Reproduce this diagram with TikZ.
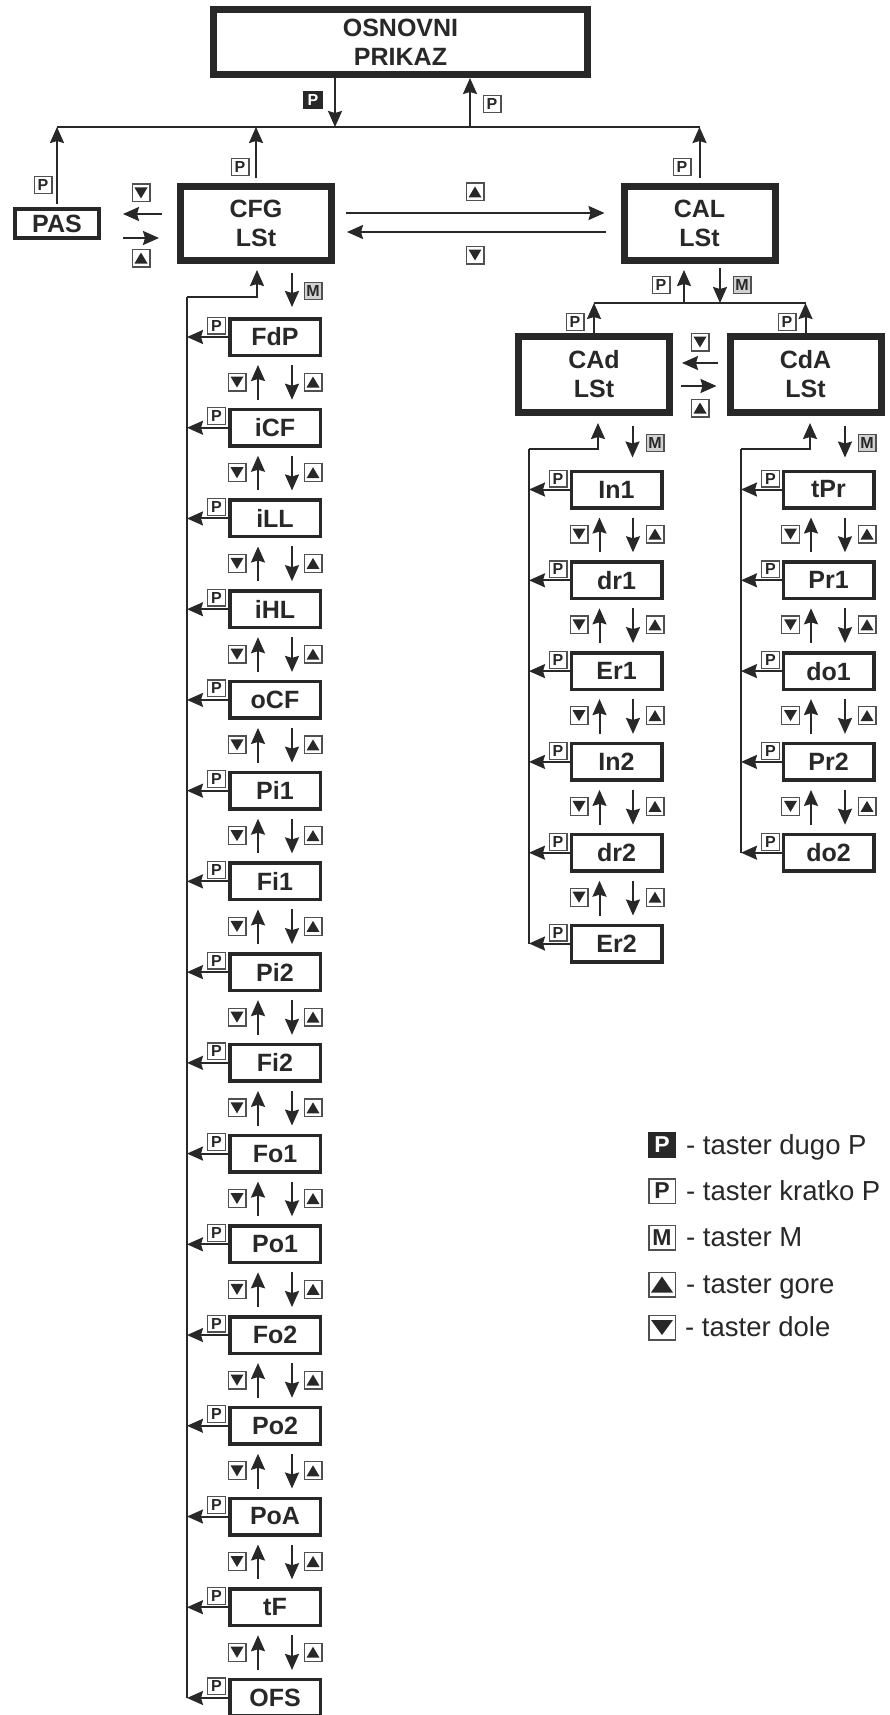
\documentclass[tikz,border=0pt]{standalone}
\usepackage{fontspec}
\setmainfont{Liberation Sans}
\usetikzlibrary{arrows.meta}
\definecolor{ink}{RGB}{40,40,40}
\definecolor{lbl}{RGB}{80,80,80}
\begin{document}
\begin{tikzpicture}[x=1pt,y=-1pt,line join=miter,
  bigbox/.style={draw=ink,line width=7pt,fill=white,text=ink,align=center,inner sep=0pt,
    font=\fontsize{25}{29}\selectfont\bfseries},
  itembox/.style={draw=ink,line width=3.5pt,fill=white,text=ink,inner sep=0pt,
    minimum width=90.5pt,minimum height=36.5pt,font=\fontsize{25}{29}\selectfont\bfseries},
  wire/.style={draw=ink,line width=2pt},
  arr/.style={wire,-{Stealth[length=16pt,width=14pt,inset=2pt]}},
  kbase/.style={draw=lbl,line width=1.2pt,fill=white,text=ink,inner sep=0pt,
    minimum width=17.8pt,minimum height=16.8pt,font=\fontsize{16}{16}\selectfont\bfseries},
  kPf/.style={fill=ink,text=white,inner sep=0pt,minimum width=20pt,minimum height=18pt,
    font=\fontsize{16}{16}\selectfont\bfseries},
  kM/.style={kbase,fill=black!18},
  kUp/.style={kbase,minimum height=17.8pt,path picture={\fill[ink] (path picture bounding box.center)
    ++(0pt,5.5pt) -- ++(6.5pt,-11pt) -- ++(-13pt,0pt) -- cycle;}},
  kDn/.style={kbase,minimum height=17.8pt,path picture={\fill[ink] (path picture bounding box.center)
    ++(0pt,-5.5pt) -- ++(6.5pt,11pt) -- ++(-13pt,0pt) -- cycle;}},
  lbase/.style={draw=lbl,line width=1.5pt,fill=white,text=ink,inner sep=0pt,
    minimum width=26.5pt,minimum height=24.5pt,font=\fontsize{23}{23}\selectfont\bfseries},
  lPf/.style={fill=ink,text=white,inner sep=0pt,minimum width=28pt,minimum height=26pt,
    font=\fontsize{23}{23}\selectfont\bfseries},
  lUp/.style={lbase,path picture={\fill[ink] (path picture bounding box.center)
    ++(0pt,8pt) -- ++(11pt,-16pt) -- ++(-22pt,0pt) -- cycle;}},
  lDn/.style={lbase,path picture={\fill[ink] (path picture bounding box.center)
    ++(0pt,-7.5pt) -- ++(11pt,15pt) -- ++(-22pt,0pt) -- cycle;}},
  legtxt/.style={anchor=base west,inner sep=0pt,text=ink,font=\fontsize{27.5}{30}\selectfont}
]
\useasboundingbox (0,0) rectangle (889,1715);

% ---------- main boxes ----------
\node[bigbox,minimum width=374pt,minimum height=65pt] (os) at (400.5,42) {OSNOVNI\\PRIKAZ};
\node[bigbox,minimum width=151pt,minimum height=74pt] (cfg) at (256,223.5) {CFG\\LSt};
\node[bigbox,minimum width=151pt,minimum height=74pt] (cal) at (699.5,223.5) {CAL\\LSt};
\node[bigbox,minimum width=151pt,minimum height=76pt] (cad) at (594,374.5) {CAd\\LSt};
\node[bigbox,minimum width=151pt,minimum height=76pt] (cda) at (805.5,374.5) {CdA\\LSt};
\node[bigbox,line width=4pt,minimum width=84pt,minimum height=29pt] (pas) at (57,223.5) {PAS};

% ---------- top bus ----------
\coordinate (bus) at (0,127);
\draw[wire] (pas.north |- bus) -- (cal.north |- bus);
\draw[arr] ([xshift=-65.5pt]os.south) -- ([xshift=-65.5pt]os.south |- bus);
\draw[arr] ([xshift=69.5pt]os.south |- bus) -- ([xshift=69.5pt]os.south);
\draw[arr,shorten <=3pt] (pas.north) -- (pas.north |- bus);
\draw[arr,shorten <=5pt] (cfg.north) -- (cfg.north |- bus);
\draw[arr,shorten <=5pt] (cal.north) -- (cal.north |- bus);
\node[kPf] (kos1) at (313,100) {P};
\node[kbase] (kos2) at (492,104) {P};
\node[kbase] (kpas) at (43,185) {P};
\node[kbase] (kcfg) at (240,167) {P};
\node[kbase] (kcal) at (682,167) {P};

% ---------- PAS <-> CFG ----------
\draw[arr,shorten <=15pt,shorten >=22pt] (cfg.west |- 0,214) -- (pas.east |- 0,214);
\draw[arr,shorten <=22pt,shorten >=18pt] (pas.east |- 0,238) -- (cfg.west |- 0,238);
\node[kDn] (kpc1) at (141,193) {};
\node[kUp] (kpc2) at (141,258) {};

% ---------- CFG <-> CAL ----------
\draw[arr,shorten <=11pt,shorten >=16pt] (cfg.east |- 0,213) -- (cal.west |- 0,213);
\draw[arr,shorten <=15pt,shorten >=12pt] (cal.west |- 0,232) -- (cfg.east |- 0,232);
\node[kUp] (kcc1) at (475,192) {};
\node[kDn] (kcc2) at (475,255) {};

% ---------- CAL sub bus ----------
\coordinate (sb) at (0,303);
\draw[wire] (cad.north |- sb) -- (cda.north |- sb);
\draw[arr,shorten >=6pt] ([xshift=-15.5pt]cal.south |- sb) -- ([xshift=-15.5pt]cal.south);
\draw[arr,shorten <=4pt] ([xshift=20.5pt]cal.south) -- ([xshift=20.5pt]cal.south |- sb);
\draw[arr] (cad.north) -- (cad.north |- sb);
\draw[arr] (cda.north) -- (cda.north |- sb);
\node[kbase] (kcal2) at (661,285) {P};
\node[kM] (kcalm) at (742,285) {M};
\node[kbase] (kcad) at (575,322) {P};
\node[kbase] (kcda) at (787,322) {P};

% ---------- CAd <-> CdA ----------
\draw[arr,shorten <=9pt,shorten >=9pt] (cda.west |- 0,363) -- (cad.east |- 0,363);
\draw[arr,shorten <=8pt,shorten >=10pt] (cad.east |- 0,386) -- (cda.west |- 0,386);
\node[kDn] (kad1) at (700,342) {};
\node[kUp] (kad2) at (700,408) {};

% ---------- CFG list ----------
\foreach \nm [count=\i from 0] in {FdP,iCF,iLL,iHL,oCF,Pi1,Fi1,Pi2,Fi2,Fo1,Po1,Fo2,Po2,PoA,tF,OFS}{
  \node[itembox] (c\i) at (275,{337+90.73*\i}) {\nm};
  \node[kbase] (cp\i) at (216.5,{325.5+90.73*\i}) {P};
}
\coordinate (cfgL) at (187,297);
\draw[wire] (cfgL) -- (cfgL |- c15.center);
\foreach \i in {0,...,15}{ \draw[arr] (c\i.west) -- (c\i.west -| cfgL); }
\draw[arr,shorten >=6pt] (cfgL) -| ([xshift=1pt]cfg.south);
\draw[arr,shorten <=9pt,shorten >=10pt] ([xshift=17pt]c0.north |- cfg.south) -- ([xshift=17pt]c0.north);
\node[kM] (kcfgm) at (313,291) {M};
\foreach \i [count=\j from 1] in {0,...,14}{
  \draw[arr,shorten <=8pt,shorten >=8pt] ([xshift=-17pt]c\j.north) -- ([xshift=-17pt]c\i.south);
  \draw[arr,shorten <=8pt,shorten >=8pt] ([xshift=17pt]c\i.south) -- ([xshift=17pt]c\j.north);
  \node[kDn] (cd\i) at (237,{382+90.73*\i}) {};
  \node[kUp] (cu\i) at (313,{382+90.73*\i}) {};
}

% ---------- CAd list ----------
\foreach \nm [count=\i from 0] in {In1,dr1,Er1,In2,dr2,Er2}{
  \node[itembox] (a\i) at (616.5,{489.5+90.8*\i}) {\nm};
  \node[kbase] (ap\i) at (558,{478.5+90.8*\i}) {P};
}
\coordinate (cadL) at (529,449);
\draw[wire] (cadL) -- (cadL |- a5.center);
\foreach \i in {0,...,5}{ \draw[arr] (a\i.west) -- (a\i.west -| cadL); }
\draw[arr,shorten >=7pt] (cadL) -| ([xshift=4pt]cad.south);
\draw[arr,shorten <=10pt,shorten >=12pt] ([xshift=16pt]a0.north |- cad.south) -- ([xshift=16pt]a0.north);
\node[kM] (kcadm) at (655,443) {M};
\foreach \i [count=\j from 1] in {0,...,4}{
  \draw[arr,shorten <=8pt,shorten >=8pt] ([xshift=-17pt]a\j.north) -- ([xshift=-17pt]a\i.south);
  \draw[arr,shorten <=8pt,shorten >=8pt] ([xshift=16.5pt]a\i.south) -- ([xshift=16.5pt]a\j.north);
  \node[kDn] (ad\i) at (579,{534+90.8*\i}) {};
  \node[kUp] (au\i) at (655,{534+90.8*\i}) {};
}

% ---------- CdA list ----------
\foreach \nm [count=\i from 0] in {tPr,Pr1,do1,Pr2,do2}{
  \node[itembox] (d\i) at (828.5,{489.5+90.8*\i}) {\nm};
  \node[kbase] (dp\i) at (770.5,{478.5+90.8*\i}) {P};
}
\coordinate (cdaL) at (741,449);
\draw[wire] (cdaL) -- (cdaL |- d4.center);
\foreach \i in {0,...,4}{ \draw[arr] (d\i.west) -- (d\i.west -| cdaL); }
\draw[arr,shorten >=7pt] (cdaL) -| ([xshift=4.5pt]cda.south);
\draw[arr,shorten <=10pt,shorten >=12pt] ([xshift=16.5pt]d0.north |- cda.south) -- ([xshift=16.5pt]d0.north);
\node[kM] (kcdam) at (867,443) {M};
\foreach \i [count=\j from 1] in {0,...,3}{
  \draw[arr,shorten <=8pt,shorten >=8pt] ([xshift=-17.5pt]d\j.north) -- ([xshift=-17.5pt]d\i.south);
  \draw[arr,shorten <=8pt,shorten >=8pt] ([xshift=16.5pt]d\i.south) -- ([xshift=16.5pt]d\j.north);
  \node[kDn] (dd\i) at (790.5,{534+90.8*\i}) {};
  \node[kUp] (du\i) at (867,{534+90.8*\i}) {};
}

% ---------- legend ----------
\node[lPf] (l1) at (662,1145) {P};
\node[lbase] (l2) at (662,1191) {P};
\node[lbase] (l3) at (662,1237.5) {M};
\node[lUp] (l4) at (662,1284.5) {};
\node[lDn] (l5) at (662,1327.5) {};
\node[legtxt] (t1) at (686,1154) {- taster dugo P};
\node[legtxt] (t2) at (686,1200) {- taster kratko P};
\node[legtxt] (t3) at (686,1246.5) {- taster M};
\node[legtxt] (t4) at (686,1293.5) {- taster gore};
\node[legtxt] (t5) at (685,1336.5) {- taster dole};
\end{tikzpicture}
\end{document}
